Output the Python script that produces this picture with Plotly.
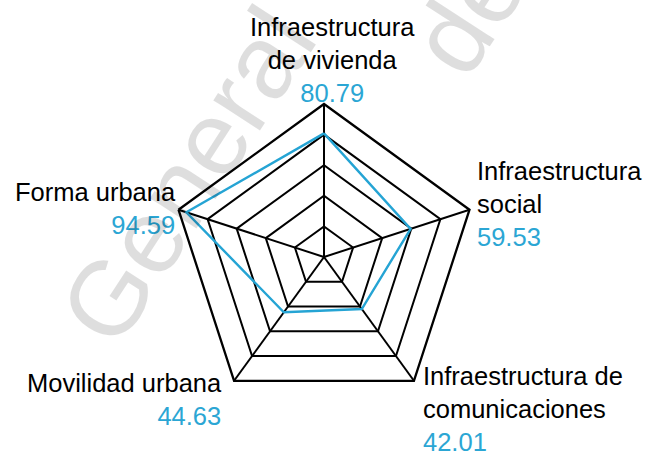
import plotly.graph_objects as go

# Índice por dimensión (escala 0-100)
categorias = [
    "Infraestructura de vivienda",
    "Infraestructura social",
    "Infraestructura de comunicaciones",
    "Movilidad urbana",
    "Forma urbana",
]
valores = [80.79, 59.53, 42.01, 44.63, 94.59]
etiquetas = [
    ["Infraestructura", "de vivienda"],
    ["Infraestructura", "social"],
    ["Infraestructura de", "comunicaciones"],
    ["Movilidad urbana"],
    ["Forma urbana"],
]
marca_agua = "General"
marca_agua_2 = "de"

W, H = 649, 457
AZUL_LINEA = "#25a4d4"
AZUL_TEXTO = "#2ba6d4"
FUENTE = "Liberation Sans, Arial, sans-serif"
TAM = 25.5

# centro y radio del pentágono exterior (px)
CX, CY, R = 324, 257, 153


def px(x):
    return x / W


def py(y):
    return 1 - y / H


fig = go.Figure()
fig.add_trace(go.Scatterpolar(
    r=valores + valores[:1],
    theta=categorias + categorias[:1],
    mode="lines",
    line=dict(color=AZUL_LINEA, width=2.4),
    hoverinfo="skip",
    showlegend=False,
))

fig.update_layout(
    width=W, height=H,
    margin=dict(l=0, r=0, t=0, b=0),
    paper_bgcolor="white",
    plot_bgcolor="white",
    showlegend=False,
    polar=dict(
        domain=dict(x=[px(CX - R), px(CX + R)], y=[py(CY + R), py(CY - R)]),
        bgcolor="rgba(0,0,0,0)",
        gridshape="linear",
        radialaxis=dict(
            range=[0, 100], dtick=20, tick0=0,
            showticklabels=False, ticks="", showline=False,
            gridcolor="black", gridwidth=2.3,
        ),
        angularaxis=dict(
            rotation=90, direction="clockwise",
            showticklabels=False, ticks="",
            showline=True, linecolor="black", linewidth=2.3,
            gridcolor="black", gridwidth=2.3,
        ),
    ),
)


def texto_etiqueta(lineas, valor):
    partes = list(lineas)
    partes.append(f'<span style="color:{AZUL_TEXTO}">{valor:.2f}</span>')
    return "<br>".join(partes)


# posición de cada etiqueta: (x px, y px superior, anclaje, alineación)
posiciones = [
    (332, 12, "center", "center"),
    (476, 156, "left", "left"),
    (422, 361, "left", "left"),
    (223, 368, "right", "right"),
    (177, 177, "right", "right"),
]

for lineas, valor, (x, y, xa, al) in zip(etiquetas, valores, posiciones):
    fig.add_annotation(
        x=px(x), y=py(y), xref="paper", yref="paper",
        xanchor=xa, yanchor="top", align=al,
        text=texto_etiqueta(lineas, valor),
        showarrow=False, borderpad=0,
        font=dict(family=FUENTE, size=TAM, color="black"),
    )

# marca de agua diagonal
fig.add_annotation(
    x=px(187), y=py(175), xref="paper", yref="paper",
    xanchor="center", yanchor="middle",
    text=marca_agua, textangle=-57, showarrow=False,
    font=dict(family=FUENTE, size=105, color="rgba(0,0,0,0.13)"),
)
fig.add_annotation(
    x=px(468), y=py(14), xref="paper", yref="paper",
    xanchor="center", yanchor="middle",
    text=marca_agua_2, textangle=-57, showarrow=False,
    font=dict(family=FUENTE, size=105, color="rgba(0,0,0,0.13)"),
)

fig.write_html("out.html")
